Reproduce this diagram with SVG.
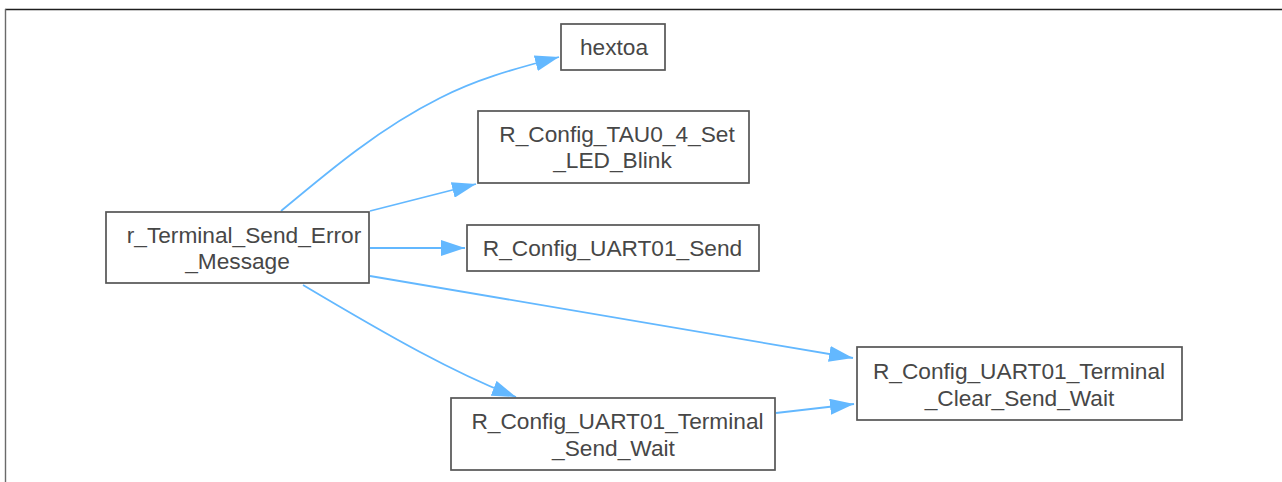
<svg xmlns="http://www.w3.org/2000/svg" width="1282" height="482" viewBox="0 0 1282 482">
<style>
.node rect{fill:#fff;stroke:#555;stroke-width:1.7}
.node text{font-family:"Liberation Sans",Arial,sans-serif;font-size:22.7px;fill:#474747;text-anchor:middle}
.edges path{fill:none;stroke:#63b8ff;stroke-width:1.8;marker-end:url(#ah)}
</style>
<defs>
<marker id="ah" viewBox="0 0 24 16" refX="24" refY="8" markerWidth="24" markerHeight="16" markerUnits="userSpaceOnUse" orient="auto">
<path d="M0,0 L24,8 L0,16 z" fill="#63b8ff"/>
</marker>
</defs>
<rect x="0" y="0" width="1282" height="482" fill="#fff"/>
<line x1="5" y1="9.5" x2="1282" y2="9.5" stroke="#1e1e1e" stroke-width="1.4"/>
<line x1="5.5" y1="9" x2="5.5" y2="482" stroke="#6a6a6a" stroke-width="1.4"/>
<g class="edges">
<path d="M281,211 C330,170 380,128 440,98 C475,80 510,70 559,57"/>
<path d="M370,211 L476,184"/>
<path d="M370,248 L465,248"/>
<path d="M370,276 L853,358"/>
<path d="M303,285 C340,307 390,336 420,352 C450,368 480,383 516,397"/>
<path d="M776,413 L854,404"/>
</g>
<g id="node_main" class="node"><rect x="106" y="212" width="263" height="71"/><text x="244" y="243">r_Terminal_Send_Error</text><text x="237.5" y="268.5">_Message</text></g>
<g id="node_hextoa" class="node"><rect x="561" y="24" width="104" height="46"/><text x="614" y="55">hextoa</text></g>
<g id="node_tau" class="node"><rect x="478" y="111" width="271" height="72"/><text x="617" y="142">R_Config_TAU0_4_Set</text><text x="612.5" y="168">_LED_Blink</text></g>
<g id="node_send" class="node"><rect x="467" y="225" width="292" height="46"/><text x="612.5" y="256">R_Config_UART01_Send</text></g>
<g id="node_sendwait" class="node"><rect x="451" y="398" width="324" height="72"/><text x="617.5" y="429">R_Config_UART01_Terminal</text><text x="613.5" y="455.5">_Send_Wait</text></g>
<g id="node_clear" class="node"><rect x="857" y="347" width="325" height="73"/><text x="1019" y="378.5">R_Config_UART01_Terminal</text><text x="1019.5" y="405.5">_Clear_Send_Wait</text></g>
</svg>
